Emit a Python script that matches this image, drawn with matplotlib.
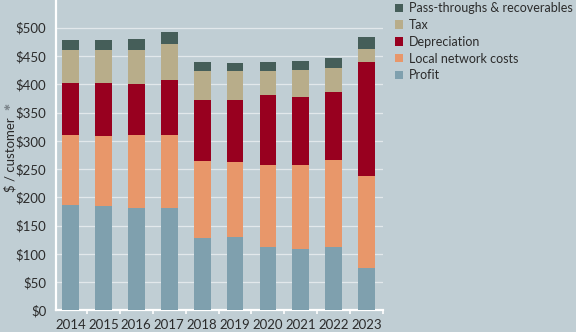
import numpy as np
import matplotlib as mpl
import matplotlib.pyplot as plt

mpl.rcParams['font.family'] = ['Lato', 'DejaVu Sans']

years = ['2014', '2015', '2016', '2017', '2018', '2019', '2020', '2021', '2022', '2023']
profit = [187, 184, 181, 181, 128, 130, 113, 109, 113, 75]
local_network = [123, 124, 129, 129, 136, 132, 144, 148, 153, 162]
depreciation = [93, 94, 91, 98, 109, 111, 124, 121, 121, 202]
tax = [58, 58, 60, 64, 51, 50, 43, 48, 42, 24]
pass_through = [18, 18, 19, 21, 16, 14, 16, 16, 17, 20]

series = [
    ('Profit', profit, '#7fa0ae'),
    ('Local network costs', local_network, '#e8976a'),
    ('Depreciation', depreciation, '#98001f'),
    ('Tax', tax, '#b8ad8a'),
    ('Pass-throughs & recoverables', pass_through, '#455e59'),
]

bg = '#c0ced4'
txt = '#2b2b2b'
fig = plt.figure(figsize=(5.76, 3.32), dpi=100, facecolor=bg)
ax = fig.add_axes([0.0972, 0.0648, 0.568, 0.9352], facecolor=bg)

x = np.arange(len(years))
bottom = np.zeros(len(years))
handles = []
for name, vals, col in series:
    b = ax.bar(x, vals, width=0.51, bottom=bottom, color=col, label=name, zorder=3)
    handles.append(b)
    bottom += np.array(vals)

ax.set_xlim(-0.44, len(years) - 0.56)
ax.set_ylim(0, 549)
ax.set_yticks(np.arange(0, 501, 50))
ax.set_yticklabels(['$%d' % v for v in range(0, 501, 50)])
ax.set_xticks(x)
ax.set_xticklabels(years)
# small white ticks between the year groups
ax.set_xticks(np.arange(0.5, len(years), 1), minor=True)

ax.grid(axis='y', color='white', alpha=0.55, lw=0.9, zorder=0)
for s in ['top', 'right']:
    ax.spines[s].set_visible(False)
for s in ['left', 'bottom']:
    ax.spines[s].set_color('white')
    ax.spines[s].set_linewidth(1.6)

ax.tick_params(axis='y', length=0, pad=7, labelsize=9.5, labelcolor=txt)
ax.tick_params(axis='x', which='major', length=0, pad=6, labelsize=9.5, labelcolor=txt)
ax.tick_params(axis='x', which='minor', length=3, color='white', width=1.2)

fig.text(0.017, 0.535, '$ / customer', rotation=90, ha='center', va='center',
         fontsize=9.5, color=txt)
fig.text(0.014, 0.68, '\u2731', rotation=90, ha='center', va='center',
         fontsize=6, color='#7d868c', family='DejaVu Sans')

leg = fig.legend(handles[::-1], [s[0] for s in series][::-1], loc='upper left',
                 bbox_to_anchor=(0.677, 1.008), frameon=False, fontsize=9,
                 handlelength=0.67, handleheight=0.67, handletextpad=0.45,
                 labelspacing=0.38, borderaxespad=0)
for t in leg.get_texts():
    t.set_color(txt)

fig.savefig('out.png', dpi=100, facecolor=bg)
